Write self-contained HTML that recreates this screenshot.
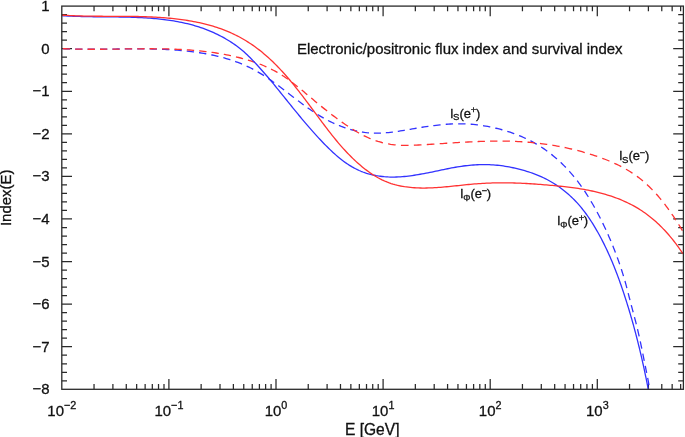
<!DOCTYPE html>
<html><head><meta charset="utf-8"><title>Electronic/positronic flux index and survival index</title>
<style>html,body{margin:0;padding:0;background:#fff}svg{display:block}</style></head>
<body>
<svg width="685" height="437" viewBox="0 0 685 437">
<rect width="685" height="437" fill="#fff"/>
<defs><clipPath id="c"><rect x="61.8" y="6.1" width="621.6" height="383.2"/></clipPath></defs>
<path d="M94.04 389.30v-5.20M94.04 6.10v5.20M112.90 389.30v-5.20M112.90 6.10v5.20M126.28 389.30v-5.20M126.28 6.10v5.20M136.66 389.30v-5.20M136.66 6.10v5.20M145.14 389.30v-5.20M145.14 6.10v5.20M152.31 389.30v-5.20M152.31 6.10v5.20M158.52 389.30v-5.20M158.52 6.10v5.20M164.00 389.30v-5.20M164.00 6.10v5.20M168.90 389.30v-10.20M168.90 6.10v10.20M201.14 389.30v-5.20M201.14 6.10v5.20M220.00 389.30v-5.20M220.00 6.10v5.20M233.38 389.30v-5.20M233.38 6.10v5.20M243.76 389.30v-5.20M243.76 6.10v5.20M252.24 389.30v-5.20M252.24 6.10v5.20M259.41 389.30v-5.20M259.41 6.10v5.20M265.62 389.30v-5.20M265.62 6.10v5.20M271.10 389.30v-5.20M271.10 6.10v5.20M276.00 389.30v-10.20M276.00 6.10v10.20M308.24 389.30v-5.20M308.24 6.10v5.20M327.10 389.30v-5.20M327.10 6.10v5.20M340.48 389.30v-5.20M340.48 6.10v5.20M350.86 389.30v-5.20M350.86 6.10v5.20M359.34 389.30v-5.20M359.34 6.10v5.20M366.51 389.30v-5.20M366.51 6.10v5.20M372.72 389.30v-5.20M372.72 6.10v5.20M378.20 389.30v-5.20M378.20 6.10v5.20M383.10 389.30v-10.20M383.10 6.10v10.20M415.34 389.30v-5.20M415.34 6.10v5.20M434.20 389.30v-5.20M434.20 6.10v5.20M447.58 389.30v-5.20M447.58 6.10v5.20M457.96 389.30v-5.20M457.96 6.10v5.20M466.44 389.30v-5.20M466.44 6.10v5.20M473.61 389.30v-5.20M473.61 6.10v5.20M479.82 389.30v-5.20M479.82 6.10v5.20M485.30 389.30v-5.20M485.30 6.10v5.20M490.20 389.30v-10.20M490.20 6.10v10.20M522.44 389.30v-5.20M522.44 6.10v5.20M541.30 389.30v-5.20M541.30 6.10v5.20M554.68 389.30v-5.20M554.68 6.10v5.20M565.06 389.30v-5.20M565.06 6.10v5.20M573.54 389.30v-5.20M573.54 6.10v5.20M580.71 389.30v-5.20M580.71 6.10v5.20M586.92 389.30v-5.20M586.92 6.10v5.20M592.40 389.30v-5.20M592.40 6.10v5.20M597.30 389.30v-10.20M597.30 6.10v10.20M629.54 389.30v-5.20M629.54 6.10v5.20M648.40 389.30v-5.20M648.40 6.10v5.20M661.78 389.30v-5.20M661.78 6.10v5.20M672.16 389.30v-5.20M672.16 6.10v5.20M680.64 389.30v-5.20M680.64 6.10v5.20M61.80 14.62h5.20M683.40 14.62h-5.20M61.80 23.13h5.20M683.40 23.13h-5.20M61.80 31.65h5.20M683.40 31.65h-5.20M61.80 40.16h5.20M683.40 40.16h-5.20M61.80 48.68h10.20M683.40 48.68h-10.20M61.80 57.19h5.20M683.40 57.19h-5.20M61.80 65.71h5.20M683.40 65.71h-5.20M61.80 74.22h5.20M683.40 74.22h-5.20M61.80 82.74h5.20M683.40 82.74h-5.20M61.80 91.26h10.20M683.40 91.26h-10.20M61.80 99.77h5.20M683.40 99.77h-5.20M61.80 108.29h5.20M683.40 108.29h-5.20M61.80 116.80h5.20M683.40 116.80h-5.20M61.80 125.32h5.20M683.40 125.32h-5.20M61.80 133.83h10.20M683.40 133.83h-10.20M61.80 142.35h5.20M683.40 142.35h-5.20M61.80 150.86h5.20M683.40 150.86h-5.20M61.80 159.38h5.20M683.40 159.38h-5.20M61.80 167.90h5.20M683.40 167.90h-5.20M61.80 176.41h10.20M683.40 176.41h-10.20M61.80 184.93h5.20M683.40 184.93h-5.20M61.80 193.44h5.20M683.40 193.44h-5.20M61.80 201.96h5.20M683.40 201.96h-5.20M61.80 210.47h5.20M683.40 210.47h-5.20M61.80 218.99h10.20M683.40 218.99h-10.20M61.80 227.50h5.20M683.40 227.50h-5.20M61.80 236.02h5.20M683.40 236.02h-5.20M61.80 244.54h5.20M683.40 244.54h-5.20M61.80 253.05h5.20M683.40 253.05h-5.20M61.80 261.57h10.20M683.40 261.57h-10.20M61.80 270.08h5.20M683.40 270.08h-5.20M61.80 278.60h5.20M683.40 278.60h-5.20M61.80 287.11h5.20M683.40 287.11h-5.20M61.80 295.63h5.20M683.40 295.63h-5.20M61.80 304.14h10.20M683.40 304.14h-10.20M61.80 312.66h5.20M683.40 312.66h-5.20M61.80 321.18h5.20M683.40 321.18h-5.20M61.80 329.69h5.20M683.40 329.69h-5.20M61.80 338.21h5.20M683.40 338.21h-5.20M61.80 346.72h10.20M683.40 346.72h-10.20M61.80 355.24h5.20M683.40 355.24h-5.20M61.80 363.75h5.20M683.40 363.75h-5.20M61.80 372.27h5.20M683.40 372.27h-5.20M61.80 380.78h5.20M683.40 380.78h-5.20" stroke="#2a2a2a" stroke-width="1.25" fill="none"/>
<g clip-path="url(#c)" fill="none" stroke-width="1.3" stroke-linejoin="round">
<path d="M62.75 48.64 L63.30 48.67 L65.30 48.76 L67.31 48.84 L69.31 48.91 L70.07 48.93M75.15 49.07 L75.82 49.08 L77.82 49.12 L79.82 49.15 L81.82 49.18 L82.48 49.18M87.56 49.22 L88.33 49.22 L90.33 49.23 L92.33 49.23 L94.33 49.22 L94.88 49.22M99.97 49.19 L100.83 49.18 L102.83 49.17 L104.83 49.15 L106.83 49.13 L107.29 49.12M112.37 49.06 L113.33 49.05 L115.33 49.03 L117.33 49.01 L119.33 48.98 L119.70 48.98M124.78 48.93 L125.33 48.92 L127.33 48.90 L129.33 48.89 L131.33 48.88 L132.11 48.87M137.19 48.86 L137.83 48.86 L139.83 48.86 L141.83 48.87 L143.83 48.88 L144.52 48.89M149.60 48.95 L150.32 48.97 L152.32 49.00 L154.32 49.05 L156.32 49.10 L156.92 49.12M162.00 49.29 L162.81 49.33 L164.81 49.41 L166.81 49.51 L168.81 49.62 L169.32 49.64M174.39 49.96 L175.30 50.03 L177.30 50.18 L179.30 50.34 L181.30 50.51 L181.69 50.55M186.75 51.05 L187.29 51.11 L189.29 51.33 L191.28 51.57 L193.28 51.82 L194.02 51.92M199.06 52.63 L199.75 52.74 L201.74 53.05 L203.72 53.39 L205.70 53.74 L206.28 53.84M211.27 54.82 L212.10 54.99 L214.06 55.42 L216.01 55.86 L217.96 56.32 L218.41 56.44M223.33 57.72 L224.25 57.97 L226.16 58.52 L228.08 59.10 L229.98 59.69 L230.35 59.81M235.16 61.45 L236.10 61.78 L237.96 62.48 L239.81 63.20 L241.65 63.94 L242.00 64.08M246.66 66.11 L247.11 66.32 L248.91 67.17 L250.69 68.04 L252.46 68.95 L253.23 69.35M257.68 71.81 L258.12 72.06 L259.83 73.08 L261.54 74.11 L263.23 75.17 L263.93 75.62M268.18 78.41 L268.67 78.74 L270.32 79.88 L271.97 81.03 L273.61 82.19 L274.18 82.61M278.28 85.61 L278.89 86.06 L280.50 87.27 L282.12 88.49 L283.72 89.71 L284.13 90.02M288.16 93.12 L288.93 93.71 L290.52 94.94 L292.12 96.17 L293.72 97.40 L293.96 97.59M298.00 100.68 L298.51 101.07 L300.11 102.28 L301.72 103.48 L303.32 104.67 L303.67 104.92M307.65 107.80 L308.18 108.18 L309.82 109.32 L311.46 110.45 L313.11 111.57 L313.49 111.82M317.61 114.49 L318.12 114.80 L319.82 115.85 L321.52 116.87 L323.25 117.86 L323.69 118.12M328.01 120.46 L328.51 120.72 L330.29 121.62 L332.10 122.49 L333.92 123.34 L334.38 123.55M338.90 125.48 L339.46 125.70 L341.33 126.43 L343.22 127.12 L345.12 127.78 L345.55 127.92M350.24 129.38 L350.87 129.55 L352.80 130.07 L354.75 130.56 L356.70 131.00 L357.11 131.09M361.94 131.99 L362.58 132.09 L364.55 132.38 L366.53 132.62 L368.50 132.81 L368.97 132.85M373.88 133.12 L374.45 133.13 L376.43 133.15 L378.42 133.14 L380.40 133.08 L380.96 133.06M385.86 132.76 L386.36 132.72 L388.35 132.54 L390.34 132.33 L392.33 132.10 L392.91 132.03M397.78 131.36 L398.30 131.29 L400.29 130.98 L402.28 130.66 L404.27 130.34 L404.77 130.25M409.61 129.42 L410.24 129.31 L412.23 128.96 L414.22 128.61 L416.21 128.26 L416.59 128.19M421.43 127.37 L422.18 127.25 L424.16 126.93 L426.15 126.63 L428.13 126.33 L428.43 126.29M433.30 125.62 L434.09 125.52 L436.07 125.27 L438.06 125.05 L440.04 124.83 L440.62 124.78M445.71 124.32 L446.49 124.27 L448.48 124.13 L450.46 124.02 L452.45 123.93 L453.06 123.90M458.17 123.79 L458.91 123.79 L460.90 123.79 L462.89 123.83 L464.88 123.89 L465.53 123.91M470.63 124.21 L471.35 124.27 L473.34 124.44 L475.33 124.64 L477.32 124.87 L477.96 124.95M483.02 125.66 L483.77 125.78 L485.75 126.11 L487.73 126.47 L489.70 126.85 L490.27 126.96M495.26 128.05 L496.08 128.25 L498.03 128.72 L499.98 129.22 L501.92 129.75 L502.40 129.88M507.30 131.33 L508.17 131.61 L510.08 132.23 L511.97 132.88 L513.86 133.55 L514.27 133.70M519.04 135.54 L519.93 135.90 L521.77 136.68 L523.60 137.48 L525.42 138.31 L525.79 138.48M530.37 140.74 L531.24 141.19 L533.00 142.13 L534.74 143.09 L536.47 144.09 L536.82 144.29M541.17 146.98 L541.99 147.51 L543.65 148.62 L545.29 149.76 L546.92 150.92 L547.23 151.16M551.30 154.25 L552.08 154.87 L553.63 156.14 L555.17 157.43 L556.68 158.74 L556.90 158.94M560.65 162.36 L561.12 162.81 L562.56 164.20 L563.98 165.61 L565.39 167.05 L565.83 167.51M569.28 171.22 L569.82 171.83 L571.14 173.33 L572.44 174.85 L573.72 176.39 L574.03 176.76M577.19 180.73 L577.76 181.48 L578.96 183.08 L580.14 184.68 L581.30 186.30 L581.52 186.61M584.40 190.79 L584.69 191.23 L585.79 192.90 L586.88 194.58 L587.94 196.26 L588.36 196.93M590.99 201.26 L591.32 201.81 L592.33 203.53 L593.33 205.27 L594.31 207.01 L594.64 207.59M597.07 212.04 L597.43 212.72 L598.37 214.49 L599.29 216.27 L600.20 218.06 L600.44 218.52M602.69 223.06 L603.09 223.90 L603.96 225.71 L604.81 227.52 L605.66 229.34 L605.81 229.66M607.90 234.28 L608.14 234.81 L608.94 236.65 L609.74 238.48 L610.52 240.32 L610.82 241.03M612.76 245.74 L613.00 246.33 L613.74 248.19 L614.48 250.05 L615.20 251.91 L615.45 252.58M617.24 257.36 L617.47 257.99 L618.15 259.87 L618.81 261.76 L619.47 263.64 L619.69 264.29M621.31 269.13 L621.53 269.80 L622.14 271.71 L622.74 273.61 L623.33 275.52 L623.51 276.14M624.95 281.03 L625.16 281.76 L625.70 283.69 L626.23 285.62 L626.75 287.55 L626.90 288.12M628.17 293.06 L628.37 293.86 L628.86 295.81 L629.35 297.75 L629.85 299.69 L629.97 300.18M631.26 305.12 L631.49 305.99 L632.01 307.92 L632.52 309.85 L633.04 311.78 L633.16 312.22M634.47 317.15 L634.71 318.06 L635.22 319.99 L635.72 321.92 L636.21 323.86 L636.31 324.26M637.52 329.22 L637.74 330.17 L638.20 332.12 L638.64 334.06 L639.08 336.01 L639.16 336.38M640.25 341.36 L640.36 341.88 L640.78 343.83 L641.19 345.79 L641.60 347.75 L641.76 348.56M642.78 353.55 L642.90 354.12 L643.29 356.08 L643.69 358.05 L644.08 360.01 L644.23 360.76M645.23 365.76 L645.36 366.38 L645.75 368.35 L646.15 370.31 L646.55 372.27 L646.69 372.96M647.68 377.97 L647.81 378.64 L648.18 380.61 L648.54 382.58 L648.87 384.55 L648.98 385.20" stroke="#3232ff"/>
<path d="M62.75 48.64 L63.29 48.66 L65.27 48.75 L67.25 48.83 L69.24 48.91 L70.07 48.93M75.15 49.08 L75.70 49.09 L77.69 49.13 L79.68 49.17 L81.67 49.20 L82.48 49.21M87.57 49.26 L88.16 49.26 L90.16 49.27 L92.15 49.27 L94.15 49.27 L94.89 49.27M99.98 49.25 L100.66 49.25 L102.67 49.23 L104.67 49.21 L106.68 49.19 L107.31 49.19M112.39 49.13 L113.20 49.12 L115.20 49.09 L117.21 49.06 L119.22 49.04 L119.72 49.03M124.80 48.96 L125.75 48.95 L127.76 48.92 L129.77 48.90 L131.78 48.87 L132.13 48.87M137.22 48.81 L137.81 48.81 L139.82 48.79 L141.83 48.78 L143.84 48.77 L144.54 48.77M149.63 48.76 L150.37 48.76 L152.38 48.77 L154.39 48.78 L156.40 48.80 L156.96 48.80M162.04 48.87 L162.92 48.88 L164.92 48.92 L166.93 48.97 L168.93 49.02 L169.37 49.04M174.45 49.21 L175.44 49.24 L177.44 49.33 L179.43 49.42 L181.43 49.52 L181.77 49.54M186.84 49.85 L187.42 49.88 L189.41 50.02 L191.40 50.17 L193.39 50.33 L194.15 50.39M199.22 50.86 L199.85 50.92 L201.84 51.13 L203.82 51.35 L205.80 51.58 L206.50 51.66M211.54 52.31 L212.23 52.41 L214.20 52.69 L216.17 52.99 L218.14 53.31 L218.79 53.41M223.80 54.28 L224.53 54.42 L226.49 54.80 L228.45 55.19 L230.41 55.59 L230.98 55.71M235.94 56.83 L236.75 57.02 L238.70 57.50 L240.64 58.00 L242.58 58.51 L243.05 58.64M247.93 60.04 L248.84 60.31 L250.75 60.91 L252.66 61.53 L254.56 62.17 L254.90 62.30M259.68 64.05 L260.19 64.25 L262.05 64.98 L263.89 65.75 L265.72 66.54 L266.44 66.86M271.04 69.03 L271.58 69.30 L273.36 70.21 L275.11 71.15 L276.85 72.12 L277.50 72.49M281.84 75.13 L282.38 75.48 L284.05 76.57 L285.70 77.70 L287.34 78.84 L287.91 79.25M292.00 82.26 L292.57 82.70 L294.16 83.93 L295.74 85.17 L297.31 86.42 L297.76 86.79M301.70 90.01 L302.37 90.57 L303.91 91.86 L305.45 93.15 L306.99 94.45 L307.31 94.72M311.20 98.00 L311.60 98.33 L313.13 99.62 L314.67 100.90 L316.21 102.18 L317.06 102.89M321.16 106.25 L321.62 106.62 L323.17 107.87 L324.73 109.12 L326.29 110.36 L327.12 111.02M331.31 114.27 L331.80 114.66 L333.39 115.87 L334.99 117.07 L336.60 118.26 L337.41 118.86M341.71 121.97 L342.29 122.38 L343.94 123.53 L345.60 124.68 L347.26 125.81 L347.99 126.30M352.44 129.18 L353.20 129.65 L354.92 130.71 L356.65 131.74 L358.40 132.74 L359.01 133.08M363.68 135.57 L364.16 135.81 L365.96 136.68 L367.78 137.52 L369.61 138.32 L370.63 138.75M375.58 140.62 L376.12 140.80 L378.01 141.41 L379.92 141.97 L381.84 142.50 L382.91 142.77M388.09 143.88 L388.63 143.98 L390.59 144.31 L392.55 144.59 L394.53 144.84 L395.65 144.95M400.93 145.33 L401.47 145.35 L403.46 145.41 L405.45 145.43 L407.45 145.42 L408.57 145.41M413.87 145.25 L414.46 145.22 L416.46 145.13 L418.46 145.02 L420.47 144.91 L421.49 144.85M426.78 144.54 L427.48 144.50 L429.48 144.37 L431.48 144.25 L433.49 144.12 L434.40 144.06M439.69 143.72 L440.49 143.66 L442.49 143.53 L444.49 143.40 L446.50 143.27 L447.31 143.22M452.60 142.88 L453.50 142.82 L455.50 142.70 L457.49 142.57 L459.49 142.45 L459.96 142.43M465.08 142.13 L465.99 142.08 L467.99 141.98 L469.99 141.88 L471.98 141.78 L472.44 141.76M477.56 141.54 L478.47 141.50 L480.47 141.43 L482.47 141.36 L484.46 141.30 L484.93 141.28M490.05 141.16 L490.95 141.14 L492.95 141.11 L494.94 141.09 L496.94 141.08 L497.43 141.08M502.55 141.09 L503.42 141.10 L505.42 141.12 L507.41 141.16 L509.41 141.20 L509.92 141.22M515.04 141.40 L515.89 141.43 L517.88 141.53 L519.87 141.64 L521.87 141.75 L522.41 141.79M527.51 142.16 L528.34 142.23 L530.33 142.41 L532.33 142.59 L534.32 142.79 L534.86 142.85M539.95 143.43 L540.78 143.53 L542.76 143.79 L544.75 144.06 L546.73 144.34 L547.26 144.42M552.32 145.21 L553.16 145.35 L555.14 145.69 L557.11 146.04 L559.08 146.40 L559.58 146.50M564.60 147.51 L565.47 147.69 L567.43 148.11 L569.39 148.55 L571.34 149.00 L572.13 149.19M577.32 150.48 L578.16 150.70 L580.10 151.21 L582.03 151.74 L583.97 152.29 L584.76 152.51M589.89 154.05 L590.70 154.30 L592.62 154.91 L594.53 155.54 L596.43 156.18 L597.22 156.44M602.25 158.25 L603.05 158.55 L604.92 159.26 L606.78 160.00 L608.64 160.76 L609.42 161.09M614.32 163.24 L615.04 163.57 L616.85 164.42 L618.64 165.29 L620.41 166.19 L621.25 166.62M625.95 169.19 L626.52 169.52 L628.23 170.53 L629.92 171.57 L631.60 172.63 L632.52 173.23M636.91 176.28 L637.71 176.87 L639.29 178.07 L640.85 179.30 L642.39 180.56 L642.98 181.04M646.99 184.58 L647.63 185.18 L649.08 186.56 L650.51 187.96 L651.93 189.38 L652.50 189.98M656.15 193.89 L656.73 194.54 L658.06 196.05 L659.38 197.59 L660.67 199.14 L661.17 199.74M664.50 203.93 L665.08 204.68 L666.30 206.30 L667.50 207.92 L668.69 209.56 L668.89 209.83M671.82 214.00 L672.17 214.52 L673.30 216.18 L674.42 217.86 L675.52 219.54 L675.89 220.12M678.63 224.42 L679.00 225.01 L680.04 226.70 L681.07 228.39 L682.09 230.07 L682.46 230.69" stroke="#ff3232"/>
<path d="M61.80 15.60 L63.76 15.74 L65.72 15.86 L67.69 15.98 L69.66 16.08 L71.63 16.18 L73.61 16.26 L75.59 16.34 L77.58 16.41 L79.57 16.47 L81.56 16.53 L83.55 16.58 L85.55 16.62 L87.55 16.66 L89.55 16.69 L91.56 16.72 L93.56 16.75 L95.57 16.77 L97.58 16.79 L99.59 16.81 L101.61 16.83 L103.62 16.84 L105.64 16.86 L107.66 16.87 L109.68 16.89 L111.69 16.91 L113.71 16.92 L115.73 16.95 L117.75 16.97 L119.78 17.00 L121.80 17.03 L123.82 17.06 L125.84 17.10 L127.86 17.15 L129.87 17.20 L131.89 17.26 L133.91 17.33 L135.92 17.40 L137.94 17.48 L139.95 17.57 L141.96 17.67 L143.97 17.78 L145.98 17.90 L147.98 18.03 L149.99 18.17 L151.99 18.32 L153.99 18.49 L155.98 18.67 L157.97 18.86 L159.96 19.07 L161.95 19.29 L163.93 19.52 L165.91 19.78 L167.89 20.04 L169.86 20.33 L171.82 20.63 L173.79 20.95 L175.75 21.29 L177.70 21.64 L179.65 22.02 L181.59 22.41 L183.53 22.83 L185.47 23.27 L187.40 23.73 L189.32 24.21 L191.24 24.71 L193.15 25.23 L195.06 25.78 L196.96 26.36 L198.86 26.96 L200.74 27.58 L202.62 28.23 L204.50 28.91 L206.37 29.61 L208.23 30.34 L210.08 31.10 L211.93 31.88 L213.76 32.70 L215.59 33.54 L217.41 34.41 L219.22 35.31 L221.01 36.24 L222.79 37.19 L224.56 38.18 L226.31 39.19 L228.04 40.23 L229.76 41.29 L231.45 42.39 L233.13 43.51 L234.79 44.65 L236.42 45.83 L238.03 47.03 L239.62 48.26 L241.18 49.51 L242.72 50.79 L244.22 52.10 L245.70 53.43 L247.16 54.79 L248.59 56.17 L250.00 57.57 L251.40 58.99 L252.78 60.42 L254.16 61.86 L255.53 63.31 L256.89 64.77 L258.24 66.24 L259.58 67.72 L260.92 69.20 L262.25 70.70 L263.57 72.20 L264.88 73.72 L266.19 75.23 L267.50 76.76 L268.79 78.29 L270.09 79.82 L271.37 81.36 L272.66 82.91 L273.94 84.46 L275.21 86.01 L276.48 87.56 L277.75 89.12 L279.01 90.68 L280.28 92.24 L281.54 93.80 L282.79 95.36 L284.05 96.92 L285.31 98.47 L286.56 100.03 L287.81 101.59 L289.06 103.14 L290.32 104.69 L291.57 106.24 L292.82 107.79 L294.08 109.34 L295.34 110.88 L296.60 112.42 L297.86 113.96 L299.12 115.50 L300.39 117.03 L301.66 118.56 L302.94 120.08 L304.22 121.60 L305.51 123.12 L306.80 124.64 L308.10 126.15 L309.41 127.65 L310.72 129.16 L312.04 130.66 L313.36 132.15 L314.70 133.64 L316.04 135.12 L317.40 136.60 L318.76 138.08 L320.13 139.55 L321.51 141.01 L322.90 142.47 L324.31 143.93 L325.72 145.37 L327.15 146.81 L328.59 148.24 L330.05 149.65 L331.52 151.05 L333.00 152.43 L334.50 153.79 L336.01 155.13 L337.54 156.44 L339.09 157.73 L340.65 159.00 L342.23 160.23 L343.83 161.43 L345.45 162.60 L347.09 163.73 L348.75 164.83 L350.43 165.88 L352.13 166.90 L353.86 167.87 L355.61 168.79 L357.38 169.67 L359.17 170.50 L360.99 171.27 L362.83 171.99 L364.70 172.66 L366.58 173.28 L368.49 173.85 L370.41 174.37 L372.35 174.84 L374.31 175.26 L376.28 175.64 L378.26 175.97 L380.25 176.25 L382.25 176.49 L384.26 176.69 L386.27 176.84 L388.29 176.96 L390.30 177.03 L392.32 177.07 L394.34 177.06 L396.35 177.02 L398.36 176.94 L400.36 176.83 L402.36 176.68 L404.35 176.51 L406.34 176.30 L408.32 176.07 L410.30 175.81 L412.27 175.53 L414.24 175.24 L416.21 174.92 L418.18 174.59 L420.14 174.25 L422.11 173.90 L424.07 173.55 L426.03 173.18 L427.99 172.80 L429.95 172.42 L431.91 172.03 L433.87 171.63 L435.83 171.22 L437.79 170.81 L439.75 170.40 L441.71 169.98 L443.68 169.57 L445.64 169.16 L447.61 168.76 L449.57 168.37 L451.54 167.98 L453.51 167.61 L455.48 167.25 L457.46 166.91 L459.43 166.59 L461.41 166.29 L463.39 166.01 L465.37 165.76 L467.36 165.53 L469.35 165.32 L471.33 165.15 L473.33 164.99 L475.32 164.86 L477.31 164.76 L479.30 164.69 L481.30 164.64 L483.29 164.62 L485.29 164.62 L487.28 164.66 L489.27 164.72 L491.27 164.81 L493.26 164.93 L495.25 165.08 L497.24 165.26 L499.23 165.47 L501.22 165.71 L503.20 165.98 L505.18 166.28 L507.16 166.60 L509.14 166.96 L511.11 167.34 L513.08 167.75 L515.04 168.18 L516.99 168.64 L518.94 169.12 L520.89 169.63 L522.82 170.16 L524.75 170.71 L526.67 171.29 L528.58 171.88 L530.48 172.50 L532.38 173.15 L534.25 173.83 L536.12 174.54 L537.98 175.28 L539.81 176.06 L541.64 176.87 L543.45 177.72 L545.24 178.60 L547.02 179.52 L548.78 180.47 L550.53 181.45 L552.25 182.47 L553.96 183.52 L555.65 184.59 L557.32 185.70 L558.96 186.84 L560.59 188.01 L562.20 189.21 L563.78 190.44 L565.35 191.69 L566.88 192.97 L568.40 194.28 L569.89 195.62 L571.36 196.98 L572.80 198.37 L574.22 199.78 L575.61 201.21 L576.97 202.68 L578.31 204.16 L579.62 205.66 L580.91 207.19 L582.17 208.74 L583.41 210.31 L584.63 211.89 L585.82 213.49 L586.99 215.11 L588.14 216.75 L589.27 218.40 L590.39 220.07 L591.48 221.74 L592.55 223.43 L593.61 225.13 L594.65 226.85 L595.67 228.57 L596.68 230.30 L597.67 232.03 L598.65 233.78 L599.61 235.53 L600.56 237.29 L601.49 239.06 L602.41 240.83 L603.32 242.62 L604.21 244.40 L605.09 246.20 L605.96 248.00 L606.81 249.80 L607.65 251.62 L608.48 253.43 L609.30 255.26 L610.11 257.09 L610.90 258.92 L611.69 260.76 L612.46 262.61 L613.22 264.45 L613.98 266.31 L614.72 268.17 L615.45 270.03 L616.18 271.89 L616.89 273.77 L617.59 275.64 L618.29 277.52 L618.98 279.40 L619.66 281.28 L620.33 283.17 L620.99 285.06 L621.65 286.95 L622.30 288.84 L622.94 290.74 L623.57 292.64 L624.20 294.54 L624.82 296.44 L625.44 298.35 L626.05 300.26 L626.65 302.16 L627.25 304.07 L627.84 305.99 L628.43 307.90 L629.01 309.81 L629.58 311.73 L630.15 313.65 L630.71 315.57 L631.27 317.49 L631.82 319.41 L632.37 321.33 L632.91 323.26 L633.44 325.19 L633.97 327.12 L634.49 329.05 L635.01 330.98 L635.52 332.91 L636.03 334.84 L636.53 336.78 L637.03 338.72 L637.52 340.65 L638.01 342.59 L638.49 344.54 L638.97 346.48 L639.44 348.42 L639.91 350.37 L640.37 352.31 L640.83 354.26 L641.28 356.21 L641.73 358.16 L642.17 360.11 L642.61 362.06 L643.05 364.01 L643.48 365.97 L643.90 367.92 L644.32 369.88 L644.74 371.84 L645.15 373.80 L645.56 375.76 L645.96 377.72 L646.36 379.68 L646.76 381.64 L647.15 383.60 L647.54 385.57 L647.92 387.53 L648.30 389.50" stroke="#3232ff"/>
<path d="M61.80 15.10 L63.79 15.23 L65.79 15.35 L67.78 15.46 L69.78 15.56 L71.78 15.66 L73.78 15.74 L75.77 15.82 L77.77 15.89 L79.77 15.95 L81.77 16.00 L83.77 16.05 L85.77 16.09 L87.77 16.13 L89.77 16.16 L91.77 16.19 L93.78 16.21 L95.78 16.23 L97.78 16.24 L99.78 16.26 L101.79 16.27 L103.79 16.28 L105.79 16.28 L107.79 16.29 L109.80 16.29 L111.80 16.30 L113.80 16.30 L115.81 16.31 L117.81 16.31 L119.81 16.32 L121.81 16.33 L123.82 16.34 L125.82 16.36 L127.82 16.37 L129.82 16.40 L131.82 16.42 L133.82 16.45 L135.83 16.48 L137.83 16.52 L139.83 16.57 L141.83 16.62 L143.82 16.68 L145.82 16.74 L147.82 16.82 L149.82 16.90 L151.81 16.99 L153.81 17.08 L155.80 17.19 L157.80 17.31 L159.79 17.43 L161.79 17.57 L163.78 17.72 L165.77 17.87 L167.76 18.05 L169.75 18.23 L171.74 18.42 L173.73 18.63 L175.71 18.85 L177.70 19.09 L179.68 19.34 L181.67 19.61 L183.65 19.89 L185.63 20.18 L187.61 20.49 L189.59 20.82 L191.56 21.17 L193.54 21.53 L195.51 21.91 L197.48 22.31 L199.44 22.73 L201.40 23.17 L203.35 23.63 L205.30 24.11 L207.24 24.61 L209.18 25.13 L211.11 25.67 L213.04 26.24 L214.95 26.82 L216.86 27.44 L218.76 28.07 L220.65 28.73 L222.54 29.42 L224.41 30.13 L226.27 30.87 L228.13 31.63 L229.97 32.42 L231.80 33.24 L233.62 34.08 L235.43 34.96 L237.22 35.86 L239.01 36.79 L240.77 37.75 L242.53 38.74 L244.27 39.75 L245.99 40.78 L247.70 41.84 L249.39 42.93 L251.06 44.04 L252.71 45.16 L254.35 46.31 L255.96 47.48 L257.56 48.67 L259.14 49.88 L260.70 51.11 L262.25 52.36 L263.77 53.63 L265.29 54.91 L266.78 56.21 L268.26 57.53 L269.73 58.87 L271.18 60.22 L272.61 61.58 L274.04 62.96 L275.44 64.36 L276.84 65.77 L278.22 67.19 L279.60 68.63 L280.95 70.08 L282.30 71.54 L283.64 73.01 L284.97 74.50 L286.28 75.99 L287.59 77.50 L288.89 79.02 L290.18 80.54 L291.46 82.08 L292.73 83.62 L293.99 85.17 L295.25 86.73 L296.50 88.30 L297.75 89.87 L298.99 91.45 L300.22 93.03 L301.45 94.62 L302.67 96.22 L303.89 97.82 L305.11 99.42 L306.32 101.03 L307.53 102.64 L308.73 104.26 L309.94 105.87 L311.14 107.49 L312.34 109.11 L313.54 110.73 L314.74 112.35 L315.94 113.97 L317.15 115.58 L318.35 117.20 L319.55 118.82 L320.75 120.43 L321.96 122.05 L323.17 123.65 L324.38 125.26 L325.60 126.86 L326.81 128.46 L328.04 130.05 L329.27 131.64 L330.50 133.22 L331.75 134.80 L332.99 136.36 L334.25 137.92 L335.52 139.47 L336.79 141.02 L338.07 142.55 L339.37 144.07 L340.67 145.58 L341.99 147.08 L343.32 148.57 L344.66 150.05 L346.01 151.52 L347.38 152.97 L348.77 154.41 L350.17 155.83 L351.58 157.24 L353.01 158.63 L354.46 160.01 L355.92 161.37 L357.41 162.71 L358.91 164.04 L360.43 165.34 L361.97 166.63 L363.54 167.90 L365.12 169.14 L366.72 170.36 L368.34 171.56 L369.98 172.72 L371.64 173.85 L373.32 174.94 L375.02 176.00 L376.74 177.02 L378.47 178.00 L380.23 178.94 L382.00 179.83 L383.79 180.67 L385.60 181.47 L387.42 182.21 L389.26 182.89 L391.12 183.53 L392.99 184.12 L394.88 184.66 L396.78 185.15 L398.70 185.60 L400.63 186.01 L402.57 186.37 L404.52 186.70 L406.48 186.98 L408.45 187.23 L410.43 187.44 L412.42 187.62 L414.41 187.76 L416.41 187.87 L418.42 187.96 L420.43 188.01 L422.45 188.03 L424.47 188.04 L426.49 188.01 L428.51 187.97 L430.54 187.90 L432.56 187.81 L434.59 187.70 L436.62 187.58 L438.64 187.44 L440.66 187.29 L442.68 187.13 L444.69 186.95 L446.70 186.77 L448.70 186.57 L450.70 186.37 L452.70 186.17 L454.69 185.96 L456.68 185.75 L458.67 185.54 L460.65 185.33 L462.64 185.11 L464.62 184.91 L466.60 184.71 L468.58 184.51 L470.56 184.32 L472.55 184.14 L474.53 183.97 L476.51 183.81 L478.50 183.66 L480.48 183.53 L482.47 183.41 L484.46 183.29 L486.45 183.20 L488.44 183.11 L490.44 183.03 L492.43 182.97 L494.42 182.91 L496.42 182.87 L498.42 182.84 L500.41 182.82 L502.41 182.81 L504.41 182.81 L506.41 182.82 L508.41 182.85 L510.40 182.88 L512.40 182.93 L514.40 182.98 L516.40 183.05 L518.40 183.12 L520.40 183.20 L522.40 183.30 L524.40 183.40 L526.40 183.51 L528.40 183.63 L530.40 183.75 L532.40 183.88 L534.40 184.02 L536.40 184.16 L538.40 184.31 L540.40 184.46 L542.39 184.62 L544.39 184.78 L546.39 184.95 L548.39 185.12 L550.38 185.29 L552.38 185.47 L554.37 185.65 L556.37 185.84 L558.36 186.03 L560.35 186.23 L562.34 186.44 L564.33 186.66 L566.32 186.88 L568.31 187.12 L570.29 187.37 L572.28 187.62 L574.26 187.89 L576.24 188.18 L578.22 188.47 L580.20 188.78 L582.17 189.11 L584.14 189.45 L586.11 189.81 L588.08 190.18 L590.04 190.58 L592.01 190.99 L593.96 191.42 L595.92 191.87 L597.87 192.34 L599.81 192.84 L601.75 193.35 L603.68 193.88 L605.61 194.44 L607.53 195.02 L609.44 195.62 L611.34 196.24 L613.23 196.89 L615.11 197.56 L616.99 198.25 L618.85 198.98 L620.70 199.72 L622.54 200.49 L624.36 201.29 L626.18 202.12 L627.98 202.97 L629.76 203.85 L631.53 204.75 L633.29 205.69 L635.03 206.65 L636.75 207.65 L638.46 208.67 L640.14 209.73 L641.82 210.81 L643.47 211.93 L645.10 213.07 L646.72 214.24 L648.31 215.45 L649.89 216.68 L651.45 217.93 L652.99 219.21 L654.51 220.52 L656.02 221.85 L657.50 223.20 L658.97 224.58 L660.41 225.98 L661.84 227.40 L663.24 228.84 L664.63 230.30 L666.00 231.77 L667.35 233.27 L668.68 234.78 L669.98 236.31 L671.27 237.85 L672.54 239.41 L673.79 240.99 L675.02 242.57 L676.23 244.17 L677.42 245.78 L678.59 247.40 L679.74 249.03 L680.87 250.67 L681.97 252.32 L683.06 253.97" stroke="#ff3232"/>
</g>
<rect x="61.80" y="6.10" width="621.60" height="383.20" fill="none" stroke="#2a2a2a" stroke-width="1.3"/>
<g font-family="'Liberation Sans', Arial, Helvetica, sans-serif" fill="#111" stroke="#111" stroke-width="0.3">
<text transform="translate(49.50 11.05) scale(1 1.025)" font-size="15.0" text-anchor="end">1</text>
<text transform="translate(49.50 53.63) scale(1 1.025)" font-size="15.0" text-anchor="end">0</text>
<text transform="translate(49.50 96.21) scale(1 1.025)" font-size="15.0" text-anchor="end">−1</text>
<text transform="translate(49.50 138.78) scale(1 1.025)" font-size="15.0" text-anchor="end">−2</text>
<text transform="translate(49.50 181.36) scale(1 1.025)" font-size="15.0" text-anchor="end">−3</text>
<text transform="translate(49.50 223.94) scale(1 1.025)" font-size="15.0" text-anchor="end">−4</text>
<text transform="translate(49.50 266.52) scale(1 1.025)" font-size="15.0" text-anchor="end">−5</text>
<text transform="translate(49.50 309.09) scale(1 1.025)" font-size="15.0" text-anchor="end">−6</text>
<text transform="translate(49.50 351.67) scale(1 1.025)" font-size="15.0" text-anchor="end">−7</text>
<text transform="translate(49.50 394.25) scale(1 1.025)" font-size="15.0" text-anchor="end">−8</text>
<text transform="translate(47.30 415.75) scale(1 1.025)" font-size="15.0">10<tspan dy="-6.4" font-size="10.8">−2</tspan></text>
<text transform="translate(154.40 415.75) scale(1 1.025)" font-size="15.0">10<tspan dy="-6.4" font-size="10.8">−1</tspan></text>
<text transform="translate(264.66 415.75) scale(1 1.025)" font-size="15.0">10<tspan dy="-6.4" font-size="10.8">0</tspan></text>
<text transform="translate(371.76 415.75) scale(1 1.025)" font-size="15.0">10<tspan dy="-6.4" font-size="10.8">1</tspan></text>
<text transform="translate(478.86 415.75) scale(1 1.025)" font-size="15.0">10<tspan dy="-6.4" font-size="10.8">2</tspan></text>
<text transform="translate(585.96 415.75) scale(1 1.025)" font-size="15.0">10<tspan dy="-6.4" font-size="10.8">3</tspan></text>
<text transform="translate(372.20 434.80) scale(1 1.025)" font-size="15.6" text-anchor="middle">E [GeV]</text>
<text transform="translate(11.00 197.80) rotate(-90) scale(1 1.025)" font-size="15.0" text-anchor="middle">Index(E)</text>
<text transform="translate(296.90 53.70) scale(1 1.025)" font-size="15.0">Electronic/positronic flux index and survival index</text>
<text transform="translate(450.00 117.50) scale(1 1.025)" font-size="13">I<tspan dx="-0.5" dy="2.6" font-size="9.6">S</tspan><tspan dy="-2.6" font-size="13">(e</tspan><tspan dx="-0.3" dy="-4.1" font-size="9.4">+</tspan><tspan dx="-0.3" dy="4.1" font-size="13">)</tspan></text>
<text transform="translate(460.10 198.10) scale(1 1.025)" font-size="13">I<tspan dx="-0.5" dy="2.6" font-size="9.0">Φ</tspan><tspan dy="-2.6" font-size="13">(e</tspan><tspan dx="-0.3" dy="-4.1" font-size="9.4">−</tspan><tspan dx="-0.3" dy="4.1" font-size="13">)</tspan></text>
<text transform="translate(619.00 160.00) scale(1 1.025)" font-size="13">I<tspan dx="-0.5" dy="2.6" font-size="9.6">S</tspan><tspan dy="-2.6" font-size="13">(e</tspan><tspan dx="-0.3" dy="-4.1" font-size="9.4">−</tspan><tspan dx="-0.3" dy="4.1" font-size="13">)</tspan></text>
<text transform="translate(557.10 224.90) scale(1 1.025)" font-size="13">I<tspan dx="-0.5" dy="2.6" font-size="9.0">Φ</tspan><tspan dy="-2.6" font-size="13">(e</tspan><tspan dx="-0.3" dy="-4.1" font-size="9.4">+</tspan><tspan dx="-0.3" dy="4.1" font-size="13">)</tspan></text>
</g></svg>
</body></html>
